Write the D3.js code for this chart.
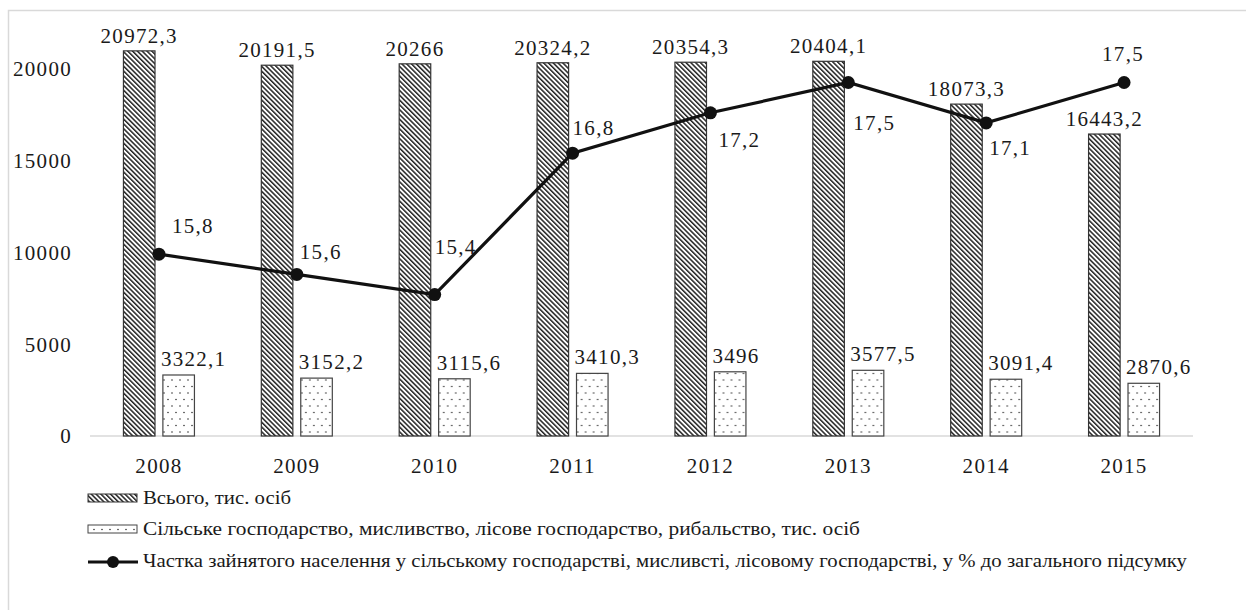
<!DOCTYPE html>
<html>
<head>
<meta charset="utf-8">
<script src="https://cdn.jsdelivr.net/npm/d3@7"></script>
<style>
  svg text { font-family: 'Liberation Serif'; }
</style>
</head>
<body style="margin:0">
<script>
// data
let years = ["2008", "2009", "2010", "2011", "2012", "2013", "2014", "2015"];
let totalEmployed = [20972.3, 20191.5, 20266, 20324.2, 20354.3, 20404.1, 18073.3, 16443.2];
let agriEmployed = [3322.1, 3152.2, 3115.6, 3410.3, 3496, 3577.5, 3091.4, 2870.6];
let agriShare = [15.8, 15.6, 15.4, 16.8, 17.2, 17.5, 17.1, 17.5];
let yTicks = [0, 5000, 10000, 15000, 20000];
let legendNames = [
  "Всього, тис. осіб",
  "Сільське господарство, мисливство, лісове господарство, рибальство, тис. осіб",
  "Частка зайнятого населення у сільському господарстві, мисливсті, лісовому господарстві, у % до загального підсумку"
];

// where the % labels sit relative to their point (dx of left edge, dy of text middle)
let shareLabelNudge = [[13, -29], [3, -23], [0, -48], [0, -26], [8, 27], [5, 40], [3, 25], [-22, -29]];

let fmt = function(v) { return String(v).replace(".", ","); };

let W = 1246, H = 610;
let svg = d3.select("body").append("svg")
    .attr("width", W)
    .attr("height", H)
    .attr("font-family", "Liberation Serif");

// patterns
let defs = svg.append("defs");
defs.append("pattern")
    .attr("id", "hatch")
    .attr("patternUnits", "userSpaceOnUse")
    .attr("width", 3.4).attr("height", 10)
    .attr("patternTransform", "rotate(-45)")
  .append("rect")
    .attr("x", 0).attr("y", 0)
    .attr("width", 1.5).attr("height", 10)
    .attr("fill", "#222");

let dots = defs.append("pattern")
    .attr("id", "dots")
    .attr("patternUnits", "userSpaceOnUse")
    .attr("width", 8).attr("height", 13);
dots.append("rect").attr("width", 8).attr("height", 13).attr("fill", "#fff");
dots.append("circle").attr("cx", 2).attr("cy", 3).attr("r", 0.75).attr("fill", "#222");
dots.append("circle").attr("cx", 6).attr("cy", 9.5).attr("r", 0.75).attr("fill", "#222");

// chart frame
svg.append("rect")
    .attr("x", 8.5).attr("y", 10.5)
    .attr("width", 1400).attr("height", 800)
    .attr("fill", "none")
    .attr("stroke", "#d9d9d9")
    .attr("stroke-width", 1.5);

// scales
let x0 = d3.scaleBand()
    .domain(years)
    .range([90, 1193]);

let half = 35.5;
let x1 = d3.scaleBand()
    .domain(["total", "agri"])
    .range([x0.bandwidth() / 2 - half, x0.bandwidth() / 2 + half])
    .paddingInner(0.2);

let y = d3.scaleLinear()
    .domain([0, 22000])
    .range([436, 32]);

let y2 = d3.scaleLinear()
    .domain([14, 18])
    .range([436, 32]);

function label(sel) {
  sel.style("font-family", "'Liberation Serif'")
     .style("font-size", "21px")
     .style("letter-spacing", "1.3px")
     .style("fill", "#1a1a1a");
}

// Y axis labels (no axis line)
svg.append("g")
  .selectAll("text")
  .data(yTicks)
  .enter()
  .append("text")
    .attr("x", 72)
    .attr("y", function(d) { return y(d); })
    .attr("dy", "0.35em")
    .attr("text-anchor", "end")
    .call(label)
    .text(function(d) { return d; });

// baseline
svg.append("line")
    .attr("x1", 90).attr("x2", 1193)
    .attr("y1", y(0)).attr("y2", y(0))
    .attr("stroke", "#d9d9d9")
    .attr("stroke-width", 1.5);

// X axis labels
svg.append("g")
  .selectAll("text")
  .data(years)
  .enter()
  .append("text")
    .attr("x", function(d) { return x0(d) + x0.bandwidth() / 2; })
    .attr("y", 466)
    .attr("dy", "0.35em")
    .attr("text-anchor", "middle")
    .call(label)
    .text(function(d) { return d; });

// Bars
let groups = svg.selectAll("g.year")
    .data(years)
    .enter()
    .append("g")
    .attr("class", "year")
    .attr("transform", function(d) { return "translate(" + x0(d) + ",0)"; });

groups.append("rect")
    .attr("x", x1("total"))
    .attr("y", function(d, i) { return y(totalEmployed[i]); })
    .attr("width", x1.bandwidth())
    .attr("height", function(d, i) { return y(0) - y(totalEmployed[i]); })
    .attr("fill", "url(#hatch)")
    .attr("stroke", "#333")
    .attr("stroke-width", 1.2);

groups.append("rect")
    .attr("x", x1("agri"))
    .attr("y", function(d, i) { return y(agriEmployed[i]); })
    .attr("width", x1.bandwidth())
    .attr("height", function(d, i) { return y(0) - y(agriEmployed[i]); })
    .attr("fill", "url(#dots)")
    .attr("stroke", "#444")
    .attr("stroke-width", 1.2);

// bar labels
groups.append("text")
    .attr("x", x1("total") + x1.bandwidth() / 2)
    .attr("y", function(d, i) { return y(totalEmployed[i]) - 8; })
    .attr("text-anchor", "middle")
    .call(label)
    .text(function(d, i) { return fmt(totalEmployed[i]); });

groups.append("text")
    .attr("x", x1("agri") - 2)
    .attr("y", function(d, i) { return y(agriEmployed[i]) - 9; })
    .attr("text-anchor", "start")
    .call(label)
    .text(function(d, i) { return fmt(agriEmployed[i]); });

// share line
let cx = function(d, i) { return x0(years[i]) + x0.bandwidth() / 2; };

let line = d3.line()
    .x(function(d, i) { return cx(d, i); })
    .y(function(d) { return y2(d); });

svg.append("path")
    .datum(agriShare)
    .attr("d", line)
    .attr("fill", "none")
    .attr("stroke", "#111")
    .attr("stroke-width", 3.2);

svg.selectAll("circle.pt")
    .data(agriShare)
    .enter()
    .append("circle")
    .attr("class", "pt")
    .attr("cx", cx)
    .attr("cy", function(d) { return y2(d); })
    .attr("r", 6.5)
    .attr("fill", "#111");

svg.selectAll("text.share")
    .data(agriShare)
    .enter()
    .append("text")
    .attr("class", "share")
    .attr("x", function(d, i) { return cx(d, i) + shareLabelNudge[i][0]; })
    .attr("y", function(d, i) { return y2(d) + shareLabelNudge[i][1]; })
    .attr("dy", "0.35em")
    .call(label)
    .text(function(d) { return fmt(d); });

// Legend
let legend = svg.append("g");
legend.append("rect")
    .attr("x", 88).attr("y", 494).attr("width", 49).attr("height", 8)
    .attr("fill", "url(#hatch)").attr("stroke", "#333").attr("stroke-width", 1);
legend.append("rect")
    .attr("x", 88).attr("y", 525).attr("width", 49).attr("height", 8)
    .attr("fill", "url(#dots)").attr("stroke", "#444").attr("stroke-width", 1);
legend.append("line")
    .attr("x1", 88).attr("x2", 138).attr("y1", 562).attr("y2", 562)
    .attr("stroke", "#111").attr("stroke-width", 3.2);
legend.append("circle")
    .attr("cx", 113).attr("cy", 562).attr("r", 6)
    .attr("fill", "#111");

let legendY = [504, 535, 567];
let legendLen = [148, 717, 1044];
legend.selectAll("text")
    .data(legendNames)
    .enter()
    .append("text")
    .attr("x", 143)
    .attr("y", function(d, i) { return legendY[i]; })
    .attr("textLength", function(d, i) { return legendLen[i]; })
    .attr("lengthAdjust", "spacingAndGlyphs")
    .style("font-family", "'Liberation Serif'")
    .style("font-size", "19px")
    .style("fill", "#1a1a1a")
    .text(function(d) { return d; });
</script>
</body>
</html>
